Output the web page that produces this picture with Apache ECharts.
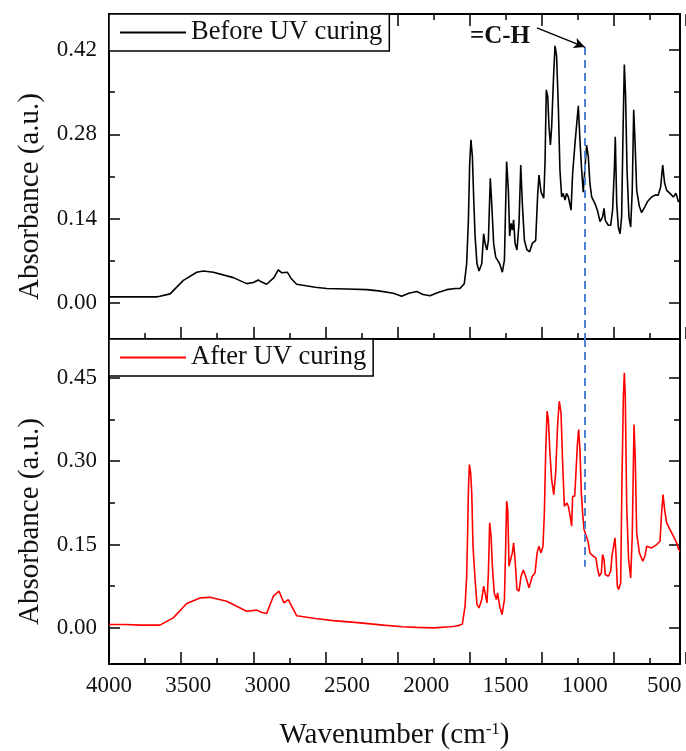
<!DOCTYPE html>
<html>
<head>
<meta charset="utf-8">
<script src="https://cdn.jsdelivr.net/npm/echarts@6/dist/echarts.min.js"></script>
<style>html,body{margin:0;padding:0;background:#fff}#chart{width:686px;height:751px}</style>
</head>
<body>
<div id="chart"></div>
<script>
// ---------- data ----------
const seriesNames = ['Before UV curing', 'After UV curing'];

const wnBefore = [4000,3900,3800,3700,3679,3615,3531,3447,3405,3342,3216,3132,3090,3059,3040,3006,2960,2933,2910,2901,2876,2850,2817,2700,2627,2500,2375,2300,2207,2155,2110,2060,2020,1976,1930,1871,1818,1787,1760,1745,1734,1726,1718,1709,1701,1692,1680,1667,1650,1638,1629,1617,1608,1596,1587,1575,1562,1550,1537,1520,1507,1499,1493,1482,1474,1465,1457,1449,1440,1428,1415,1404,1394,1381,1365,1348,1331,1310,1297,1289,1276,1268,1259,1251,1243,1234,1226,1217,1209,1198,1188,1178,1167,1157,1146,1136,1125,1115,1104,1087,1077,1062,1047,1041,1031,1020,1010,999,989,978,968,957,936,921,904,888,879,871,852,837,825,814,808,799,789,778,768,759,751,743,734,722,711,701,692,684,673,656,642,621,606,579,558,537,522,509,497,484,463,442,425,410,400];
const absBefore = [0.010,0.010,0.010,0.010,0.011,0.015,0.0375,0.051,0.053,0.051,0.042,0.032,0.034,0.038,0.035,0.031,0.042,0.055,0.050,0.047,0.051,0.040,0.031,0.026,0.024,0.023,0.022,0.020,0.016,0.011,0.016,0.019,0.014,0.012,0.017,0.022,0.024,0.024,0.032,0.065,0.138,0.232,0.271,0.243,0.176,0.111,0.065,0.053,0.065,0.115,0.099,0.088,0.104,0.207,0.165,0.099,0.076,0.079,0.065,0.051,0.071,0.165,0.235,0.187,0.111,0.132,0.121,0.138,0.099,0.088,0.132,0.229,0.165,0.104,0.088,0.085,0.099,0.104,0.182,0.2125,0.184,0.182,0.174,0.232,0.354,0.343,0.293,0.2625,0.293,0.371,0.427,0.41,0.326,0.221,0.176,0.182,0.171,0.182,0.176,0.154,0.215,0.265,0.31,0.3275,0.271,0.221,0.184,0.187,0.262,0.243,0.199,0.176,0.165,0.154,0.135,0.143,0.157,0.137,0.129,0.129,0.154,0.221,0.276,0.165,0.126,0.115,0.143,0.287,0.396,0.343,0.221,0.143,0.126,0.187,0.321,0.271,0.187,0.16,0.15,0.16,0.168,0.176,0.179,0.179,0.193,0.229,0.199,0.187,0.182,0.176,0.182,0.168,0.171];

const wnAfter = [4000,3900,3800,3700,3679,3595,3510,3426,3363,3258,3132,3069,3040,3006,2964,2928,2897,2870,2817,2700,2586,2450,2271,2150,2060,1950,1850,1818,1787,1772,1755,1745,1739,1734,1728,1720,1713,1705,1692,1680,1667,1650,1638,1629,1617,1608,1600,1591,1583,1571,1558,1550,1537,1522,1507,1499,1493,1486,1478,1468,1457,1449,1440,1428,1415,1402,1388,1373,1352,1331,1314,1301,1289,1276,1264,1255,1247,1238,1230,1220,1209,1196,1184,1171,1161,1150,1140,1129,1114,1104,1094,1083,1077,1064,1056,1047,1039,1031,1022,1014,1005,993,980,968,947,930,919,909,896,888,879,871,852,837,829,820,810,804,795,787,774,766,757,751,745,736,724,711,701,690,682,673,656,635,621,610,579,547,526,516,507,497,484,463,442,421,408,400];
const absAfter = [0.006,0.006,0.005,0.005,0.005,0.018,0.044,0.054,0.055,0.048,0.030,0.032,0.028,0.026,0.057,0.066,0.045,0.051,0.022,0.017,0.013,0.010,0.005,0.002,0.001,0.0,0.002,0.003,0.005,0.007,0.039,0.093,0.171,0.248,0.294,0.279,0.243,0.147,0.087,0.042,0.036,0.051,0.075,0.063,0.045,0.099,0.189,0.165,0.111,0.063,0.051,0.063,0.039,0.024,0.051,0.147,0.228,0.213,0.111,0.123,0.135,0.153,0.123,0.069,0.066,0.093,0.104,0.093,0.072,0.093,0.099,0.135,0.147,0.135,0.147,0.207,0.315,0.39,0.375,0.315,0.267,0.24,0.279,0.369,0.408,0.387,0.297,0.219,0.225,0.219,0.204,0.183,0.237,0.237,0.279,0.33,0.357,0.321,0.243,0.207,0.177,0.174,0.156,0.135,0.129,0.126,0.105,0.093,0.099,0.132,0.123,0.096,0.093,0.102,0.129,0.129,0.162,0.135,0.075,0.069,0.081,0.261,0.417,0.459,0.417,0.219,0.123,0.09,0.165,0.366,0.303,0.171,0.135,0.12,0.129,0.147,0.144,0.15,0.156,0.207,0.24,0.213,0.189,0.177,0.165,0.153,0.141,0.138];

const xTickLabels = [4000,3500,3000,2500,2000,1500,1000,500];
const yTopLabels = [0,0.14,0.28,0.42];
const yBotLabels = [0,0.15,0.30,0.45];

const peakLabel = '=C-H';
const peakWn = 1000;
const labelPos = [1535, 0.443];
const arrowFrom = [1302, 0.457];
const arrowTo = [1000, 0.425];
const dashBottomEnd = 0.11;

// ---------- layout ----------
const FONT = '"Liberation Serif", "Times New Roman", serif';
const TXT = '#111';
const X_MIN = 400, X_MAX = 4000;
const TOP_Y = [-0.06, 0.48];
const BOT_Y = [-0.065, 0.52];
const G_LEFT = 109, G_W = 571, G_H = 325, TOP_T = 14, BOT_T = 339;
const G_RIGHT_X = G_LEFT + G_W;

const pxPerWn = G_W / (X_MAX - X_MIN);
const xTickW = X_MAX * pxPerWn;              // aux grids whose x range starts at 0
function ySpan(top, range, lastTick) {       // vertical span of [0, lastTick]
  const ppu = G_H / (range[1] - range[0]);
  return { top: top + (range[1] - lastTick) * ppu, height: lastTick * ppu };
}
const spanTop = ySpan(TOP_T, TOP_Y, 0.42);
const spanBot = ySpan(BOT_T, BOT_Y, 0.45);

const AX = { color: '#000', width: 2 };
const TICK = { color: '#000', width: 1.5 };
const hidden = (g) => ({ type: 'value', gridIndex: g, show: false, min: 0, max: 1,
                         axisLine: { show: false, onZero: false } });

function frameX(g, pos, extra) {
  return Object.assign({
    type: 'value', gridIndex: g, position: pos, inverse: true, min: X_MIN, max: X_MAX,
    axisLine: { show: true, onZero: false, lineStyle: AX }, axisTick: { show: false },
    axisLabel: { show: false }, splitLine: { show: false }
  }, extra || {});
}
function frameY(g, pos, range, extra) {
  return Object.assign({
    type: 'value', gridIndex: g, position: pos, min: range[0], max: range[1],
    axisLine: { show: true, onZero: false, lineStyle: AX }, axisTick: { show: false },
    axisLabel: { show: false }, splitLine: { show: false }
  }, extra || {});
}
function tickX(g, inside) {
  return {
    type: 'value', gridIndex: g, position: 'bottom', inverse: true, min: 0, max: X_MAX, interval: 500,
    axisLine: { show: false, onZero: false }, axisLabel: { show: false }, splitLine: { show: false },
    axisTick: { show: true, inside: inside, length: 12, lineStyle: TICK },
    minorTick: { show: true, splitNumber: 2, length: 6, lineStyle: TICK }
  };
}
function tickY(g, maxTick, step, inside) {
  return {
    type: 'value', gridIndex: g, position: 'left', min: 0, max: maxTick, interval: step,
    axisLine: { show: false, onZero: false }, axisLabel: { show: false }, splitLine: { show: false },
    axisTick: { show: true, inside: inside, length: 11, lineStyle: TICK },
    minorTick: { show: true, splitNumber: 2, length: 6, lineStyle: TICK }
  };
}
const yLabel = (vals) => ({
  show: true, customValues: vals, margin: 12,
  formatter: v => Number(v).toFixed(2),
  fontFamily: FONT, fontSize: 23, color: TXT
});
const yName = {
  name: 'Absorbance (a.u.)', nameLocation: 'middle', nameGap: 64,
  nameTextStyle: { fontFamily: FONT, fontSize: 29, color: TXT, padding: [0, 40, 0, 0] }
};
function legendFor(name, top) {
  return {
    data: [name], left: G_LEFT, top: top, orient: 'horizontal',
    backgroundColor: '#fff', borderColor: '#000', borderWidth: 1.5, borderRadius: 0,
    padding: [5, 7, 5, 11], itemWidth: 66, itemHeight: 2, icon: 'rect',
    textStyle: { fontFamily: FONT, fontSize: 26.5, color: TXT }
  };
}

// grids: 0 top main, 1 bottom main,
// 2/3 bottom x-ticks (top/bottom panel), 4 top x-ticks (top panel, grid ends at the frame top),
// 5/6 left y-ticks, 7/8 right y-ticks (grid starts at the right frame)
const grids = [
  { left: G_LEFT, top: TOP_T, width: G_W, height: G_H },
  { left: G_LEFT, top: BOT_T, width: G_W, height: G_H },
  { left: G_LEFT, top: TOP_T, width: xTickW, height: G_H },
  { left: G_LEFT, top: BOT_T, width: xTickW, height: G_H },
  { left: G_LEFT, top: TOP_T - 10, width: xTickW, height: 10 },
  { left: G_LEFT, top: spanTop.top, width: G_W, height: spanTop.height },
  { left: G_LEFT, top: spanBot.top, width: G_W, height: spanBot.height },
  { left: G_RIGHT_X, top: spanTop.top, width: 5, height: spanTop.height },
  { left: G_RIGHT_X, top: spanBot.top, width: 5, height: spanBot.height }
];

const chart = echarts.init(document.getElementById('chart'), null, { renderer: 'canvas' });
chart.setOption({
  animation: false,
  backgroundColor: '#fff',
  grid: grids,
  xAxis: [
    frameX(0, 'bottom'),
    frameX(0, 'top'),
    frameX(1, 'bottom', {
      axisLabel: { show: true, customValues: xTickLabels, margin: 10, formatter: v => String(v),
                   fontFamily: FONT, fontSize: 23, color: TXT },
      name: 'Wavenumber (cm{sup|-1})', nameLocation: 'middle', nameGap: 57,
      nameTextStyle: {
        fontFamily: FONT, fontSize: 29, color: TXT,
        rich: { sup: { fontFamily: FONT, fontSize: 17, color: TXT, verticalAlign: 'top', padding: [0, 0, 12, 0] } }
      }
    }),
    tickX(2, true),
    tickX(3, true),
    tickX(4, false),
    hidden(5), hidden(6), hidden(7), hidden(8)
  ],
  yAxis: [
    frameY(0, 'left', TOP_Y, Object.assign({ axisLabel: yLabel(yTopLabels) }, yName)),
    frameY(0, 'right', TOP_Y),
    frameY(1, 'left', BOT_Y, Object.assign({ axisLabel: yLabel(yBotLabels) }, yName)),
    frameY(1, 'right', BOT_Y),
    hidden(2), hidden(3), hidden(4),
    tickY(5, 0.42, 0.14, true),
    tickY(6, 0.45, 0.15, true),
    tickY(7, 0.42, 0.14, false),
    tickY(8, 0.45, 0.15, false)
  ],
  legend: [legendFor(seriesNames[0], TOP_T), legendFor(seriesNames[1], BOT_T)],
  series: [
    {
      name: seriesNames[0], type: 'line', xAxisIndex: 0, yAxisIndex: 0,
      data: wnBefore.map((w, i) => [w, absBefore[i]]),
      symbol: 'none', showSymbol: false, color: '#000',
      lineStyle: { color: '#000', width: 1.6 },
      markLine: {
        silent: true, animation: false, label: { show: false }, symbol: 'none',
        data: [
          [
            { coord: [peakWn, arrowTo[1]], symbol: 'none', lineStyle: { color: '#4f81d1', width: 2, type: [8, 5] } },
            { coord: [peakWn, TOP_Y[0]], symbol: 'none' }
          ],
          [
            { coord: arrowFrom, symbol: 'none', lineStyle: { color: '#000', width: 1.5, type: 'solid' } },
            { coord: arrowTo, symbol: 'arrow', symbolSize: [8, 11] }
          ]
        ]
      },
      markPoint: {
        silent: true, animation: false,
        data: [{
          coord: labelPos, symbol: 'rect', symbolSize: 1,
          itemStyle: { color: 'rgba(0,0,0,0)' },
          label: { show: true, position: 'inside', formatter: peakLabel, fontFamily: FONT, fontSize: 25, fontWeight: 'bold', color: TXT }
        }]
      }
    },
    {
      name: seriesNames[1], type: 'line', xAxisIndex: 2, yAxisIndex: 2,
      data: wnAfter.map((w, i) => [w, absAfter[i]]),
      symbol: 'none', showSymbol: false, color: '#ff0000',
      lineStyle: { color: '#ff0000', width: 1.6 },
      markLine: {
        silent: true, animation: false, label: { show: false }, symbol: 'none',
        data: [[
          { coord: [peakWn, BOT_Y[1]], symbol: 'none', lineStyle: { color: '#4f81d1', width: 2, type: [8, 5] } },
          { coord: [peakWn, dashBottomEnd], symbol: 'none' }
        ]]
      }
    }
  ]
});
</script>
</body>
</html>
